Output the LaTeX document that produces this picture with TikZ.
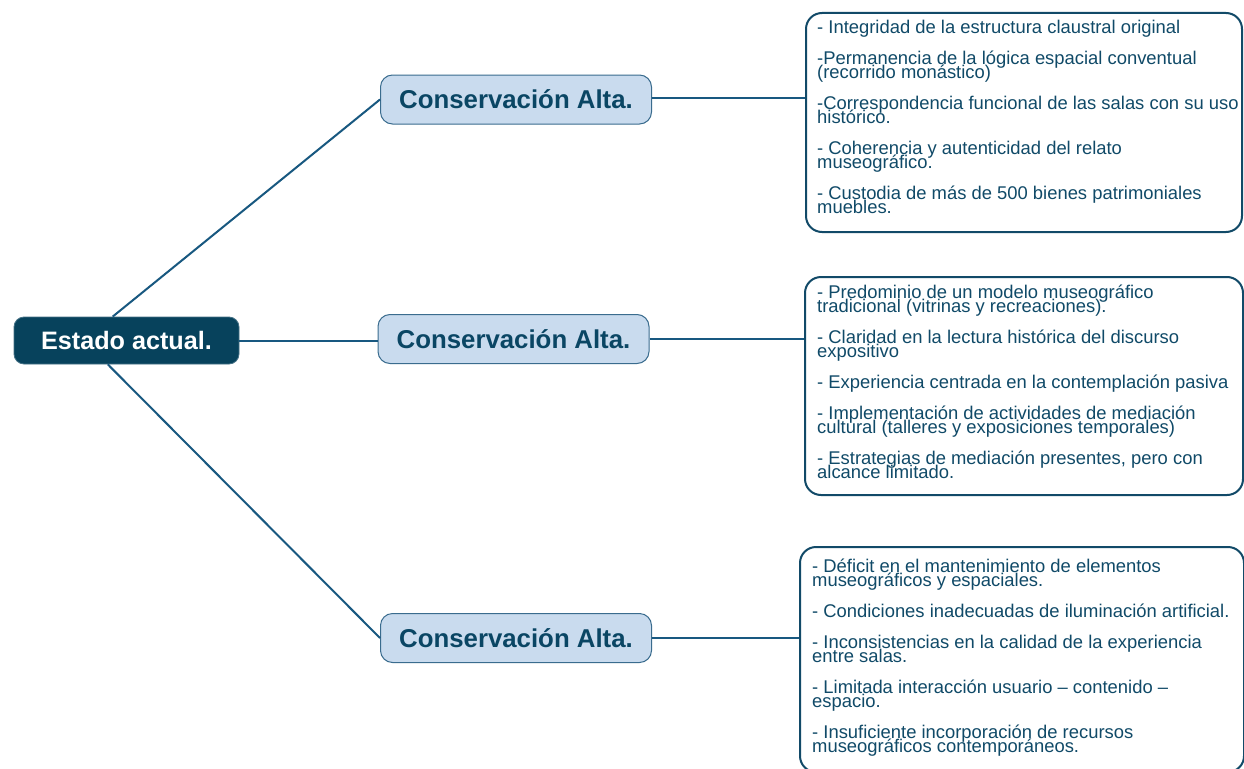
\documentclass[tikz,border=0pt]{standalone}
\usepackage{fontspec}
\setmainfont{Liberation Sans}
\definecolor{rootblue}{RGB}{7,66,92}
\definecolor{branchfill}{RGB}{201,219,238}
\definecolor{branchline}{RGB}{58,108,142}
\definecolor{branchtext}{RGB}{10,70,100}
\definecolor{boxline}{RGB}{18,74,104}
\definecolor{itemtext}{RGB}{16,74,104}
\definecolor{linkblue}{RGB}{24,88,128}
\begin{document}
\begin{tikzpicture}
    [
        x=1pt, y=-1pt,
        root/.style={rectangle, rounded corners=10pt, fill=rootblue, draw=rootblue!75!white, line width=0.8pt, text=white, font={\fontsize{25.2}{30}\selectfont\bfseries}, minimum width=225pt, minimum height=47pt},
        branch/.style={rectangle, rounded corners=12pt, fill=branchfill, draw=branchline, line width=1pt, text=branchtext, font={\fontsize{25.8}{30}\selectfont\bfseries}, minimum width=271pt, minimum height=49pt},
        detail/.style={rectangle, rounded corners=16pt, draw=boxline, line width=2pt},
        items/.style={align=left, inner sep=0pt, anchor=north west, text=itemtext, font={\fontsize{18.4}{14}\selectfont\lineskiplimit=-30pt}},
        link/.style={draw=linkblue, line width=2pt},
    ]
    \fill [white] (0,0) rectangle (1244,768);
    \useasboundingbox (0,0) rectangle (1244,768);
    % detail boxes
    \node (d1) at (1024,122.5) [detail, minimum width=436pt, minimum height=219pt] {};
    \node (d2) at (1024,386) [detail, minimum width=438pt, minimum height=218pt] {};
    \node (d3) at (1022,659.5) [detail, minimum width=444pt, minimum height=225pt] {};
    \node (t1) at (817,15) [items] {\rule{0pt}{18pt}- Integridad de la estructura claustral original\\[17pt]
        -Permanencia de la lógica espacial conventual\\
        (recorrido monástico)\\[17pt]
        -Correspondencia funcional de las salas con su uso\\
        histórico.\\[17pt]
        - Coherencia y autenticidad del relato\\
        museográfico.\\[17pt]
        - Custodia de más de 500 bienes patrimoniales\\
        muebles.};
    \node (t2) at (817,280) [items] {\rule{0pt}{18pt}- Predominio de un modelo museográfico\\
        tradicional (vitrinas y recreaciones).\\[17pt]
        - Claridad en la lectura histórica del discurso\\
        expositivo\\[17pt]
        - Experiencia centrada en la contemplación pasiva\\[17pt]
        - Implementación de actividades de mediación\\
        cultural (talleres y exposiciones temporales)\\[17pt]
        - Estrategias de mediación presentes, pero con\\
        alcance limitado.};
    \node (t3) at (812,554) [items] {\rule{0pt}{18pt}- Déficit en el mantenimiento de elementos\\
        museográficos y espaciales.\\[17pt]
        - Condiciones inadecuadas de iluminación artificial.\\[17pt]
        - Inconsistencias en la calidad de la experiencia\\
        entre salas.\\[17pt]
        - Limitada interacción usuario – contenido –\\
        espacio.\\[17pt]
        - Insuficiente incorporación de recursos\\
        museográficos contemporáneos.};
    % root and branches
    \node (root) at (126.5,340.5) [root] {Estado actual.};
    \node (c1) at (516,99.5) [branch] {Conservación Alta.};
    \node (c2) at (513.5,339) [branch] {Conservación Alta.};
    \node (c3) at (516,638) [branch] {Conservación Alta.};
    \draw [link] (root.120) -- (c1.west);
    \draw [link] (root.east) -- (root.east -| c2.west);
    \draw [link] (root.232) -- (c3.west);
    \draw [link] ([yshift=2pt]c1.east) -- ([yshift=2pt]c1.east -| d1.west);
    \draw [link] (c2.east) -- (c2.east -| d2.west);
    \draw [link] (c3.east) -- (c3.east -| d3.west);
\end{tikzpicture}
\end{document}
